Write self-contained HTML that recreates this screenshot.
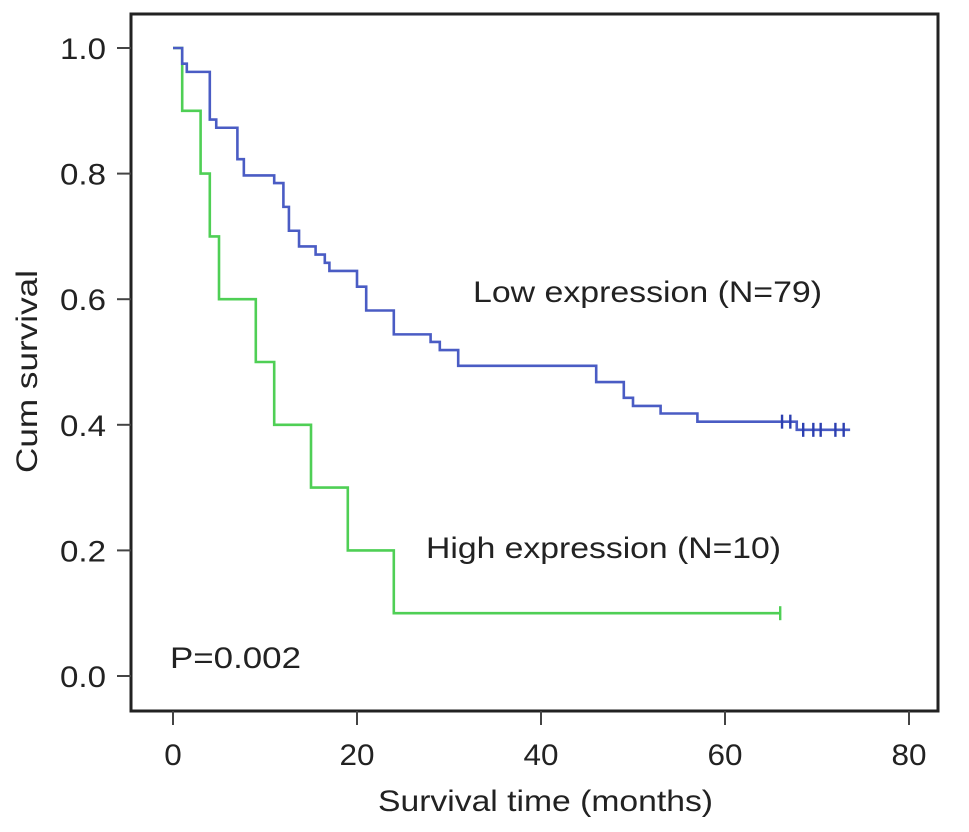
<!DOCTYPE html>
<html><head><meta charset="utf-8"><style>
body{margin:0;background:#fff;}
svg{display:block;font-family:"Liberation Sans",Arial,sans-serif;}
</style></head><body>
<svg id="chart" width="969" height="832" viewBox="0 0 969 832">
<rect x="131" y="14" width="807" height="697" fill="none" stroke="#222" stroke-width="3"/>
<g id="axes"></g>
<g id="series"></g>
<text x="473" y="302" font-size="30" fill="#222" textLength="349" lengthAdjust="spacingAndGlyphs">Low expression (N=79)</text>
<text x="426" y="558" font-size="30" fill="#222" textLength="355" lengthAdjust="spacingAndGlyphs">High expression (N=10)</text>
<text x="170" y="668" font-size="30" fill="#222" textLength="131" lengthAdjust="spacingAndGlyphs">P=0.002</text>
<text x="378" y="811" font-size="30" fill="#222" textLength="335" lengthAdjust="spacingAndGlyphs">Survival time (months)</text>
<text transform="translate(37,473) rotate(-90)" font-size="30" fill="#222" textLength="203" lengthAdjust="spacingAndGlyphs">Cum survival</text>
</svg>
<script>
const xTicks=[0,20,40,60,80];
const yTicks=[0.0,0.2,0.4,0.6,0.8,1.0];
const yTickLabels=["0.0","0.2","0.4","0.6","0.8","1.0"];
const lowTimes=[0,1,1.5,4,4.7,7,7.7,11,12,12.6,13.7,15.5,16.5,17,20,21,24,28,29,31,46,49,50,53,57,67.8,73.6];
const lowSurv=[1.0,0.975,0.962,0.886,0.873,0.823,0.797,0.785,0.747,0.709,0.684,0.671,0.658,0.645,0.62,0.582,0.544,0.532,0.519,0.494,0.468,0.443,0.43,0.418,0.405,0.392,0.392];
const lowCensor=[66.2,67.1,68.5,69.6,70.4,72,72.9];
const highTimes=[0,1,3,4,5,9,11,15,19,24,66];
const highSurv=[1.0,0.9,0.8,0.7,0.6,0.5,0.4,0.3,0.2,0.1,0.1];
const highCensor=[66];
const X=m=>173+9.2*m;
const Y=s=>676-628*s;
const NS='http://www.w3.org/2000/svg';
function mk(tag,attrs,parent){const e=document.createElementNS(NS,tag);for(const k in attrs)e.setAttribute(k,attrs[k]);parent.appendChild(e);return e;}
const axes=document.getElementById('axes');
xTicks.forEach(t=>{
  const l=mk('line',{x1:X(t),x2:X(t),y1:711,y2:725,stroke:'#444','stroke-width':2},axes);
  
  
  const s=String(t);
  const w=s.length*17.5;
  const tx=mk('text',{x:X(t)-w/2,y:765,'font-size':30,fill:'#222',textLength:w,lengthAdjust:'spacingAndGlyphs'},axes);
  tx.textContent=s;
  
  
});
yTicks.forEach((t,i)=>{
  const l=mk('line',{x1:117,x2:131,y1:Y(t),y2:Y(t),stroke:'#444','stroke-width':2},axes);
  
  
  const tx=mk('text',{x:60,y:Y(t)+11,'font-size':30,fill:'#222',textLength:46,lengthAdjust:'spacingAndGlyphs'},axes);
  tx.textContent=yTickLabels[i];
  
  
});
const series=document.getElementById('series');
function stepPath(ts,ss){let d='M'+X(ts[0])+','+Y(ss[0]);for(let i=1;i<ts.length;i++){d+=' H'+X(ts[i])+' V'+Y(ss[i]);}return d;}
function survAt(ts,ss,t){let s=ss[0];for(let i=0;i<ts.length;i++){if(ts[i]<=t)s=ss[i];}return s;}
const gp=mk('path',{d:stepPath(highTimes,highSurv),fill:'none',stroke:'#4fcf55','stroke-width':2.6},series);


const bp=mk('path',{d:stepPath(lowTimes,lowSurv),fill:'none',stroke:'#4a5cc4','stroke-width':2.6},series);


lowCensor.forEach(t=>{
  const y=Y(survAt(lowTimes,lowSurv,t));
  const c=mk('line',{x1:X(t),x2:X(t),y1:y-7,y2:y+7,stroke:'#2c3fb0','stroke-width':2.4},series);
  
  
});
highCensor.forEach(t=>{
  const y=Y(survAt(highTimes,highSurv,t));
  const c=mk('line',{x1:X(t),x2:X(t),y1:y-7,y2:y+7,stroke:'#4fcf55','stroke-width':2.4},series);
  
  
});
</script>
</body></html>
